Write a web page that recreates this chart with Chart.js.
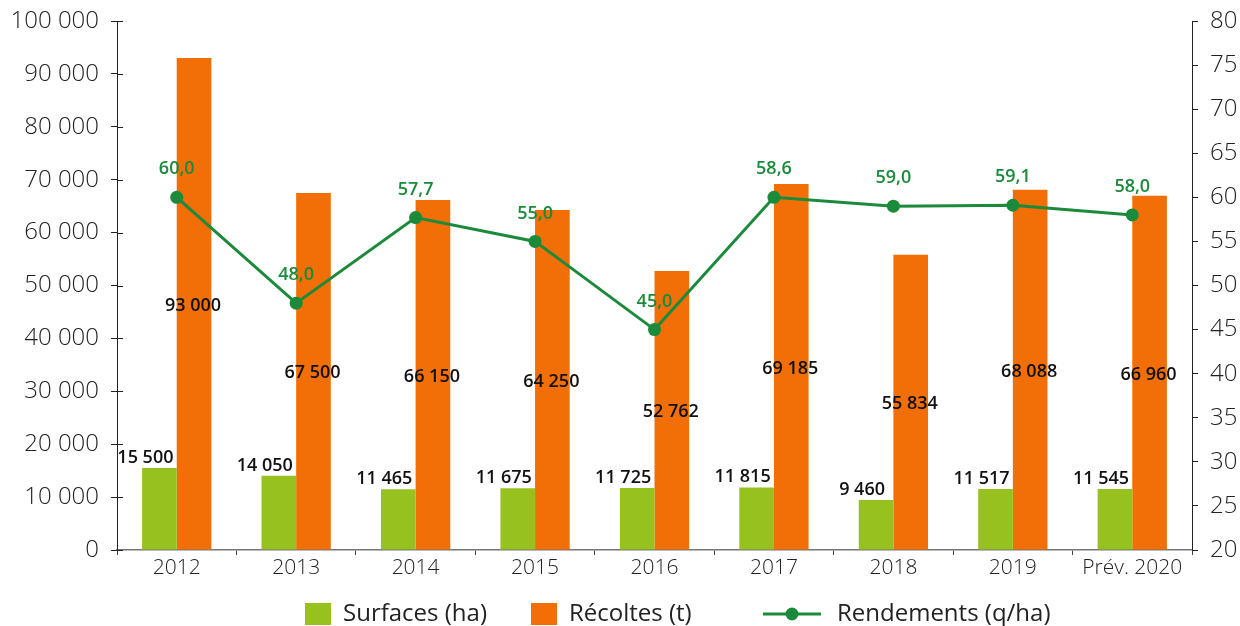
<!DOCTYPE html>
<html><head><meta charset="utf-8">
<script src="https://cdn.jsdelivr.net/npm/chart.js@4.4.1/dist/chart.umd.min.js"></script>
<style>html,body{margin:0;padding:0;background:#fff}canvas{display:block}</style>
</head><body>
<canvas id="c" width="1240" height="626"></canvas>
<script>
const categories = ['2012','2013','2014','2015','2016','2017','2018','2019','Prév. 2020'];
const surfaces = [15500, 14050, 11465, 11675, 11725, 11815, 9460, 11517, 11545];
const recoltes = [93000, 67500, 66150, 64250, 52762, 69185, 55834, 68088, 66960];
const rendements = [60.0, 48.0, 57.7, 55.0, 45.0, 60.0, 59.0, 59.1, 58.0];
const rendementLabels = ['60,0','48,0','57,7','55,0','45,0','58,6','59,0','59,1','58,0'];
const seriesNames = ['Surfaces (ha)', 'Récoltes (t)', 'Rendements (q/ha)'];

const GREEN_BAR = '#97C11F';
const ORANGE = '#F26E06';
const LINE_GREEN = '#1B8A3B';
const FONT = "'Open Sans', sans-serif";
const TXT = '#222';

function fmt(v){ return String(v).replace(/\B(?=(\d{3})+(?!\d))/g, ' '); }

const labelPlugin = {
  id: 'labels',
  afterDatasetsDraw(chart){
    const ctx = chart.ctx;
    ctx.save();
    const m0 = chart.getDatasetMeta(0);
    ctx.font = "600 18px " + FONT;
    ctx.fillStyle = '#111';
    ctx.textAlign = 'center';
    ctx.textBaseline = 'alphabetic';
    m0.data.forEach((el, i) => { ctx.fillText(fmt(surfaces[i]), el.x - 14, el.y - 5); });
    const m1 = chart.getDatasetMeta(1);
    ctx.textBaseline = 'middle';
    m1.data.forEach((el, i) => { ctx.fillText(fmt(recoltes[i]), el.x - 1, (el.y + el.base)/2 + 2); });
    const m2 = chart.getDatasetMeta(2);
    ctx.font = "600 18px " + FONT;
    ctx.fillStyle = LINE_GREEN;
    m2.data.forEach((el, i) => { ctx.fillText(rendementLabels[i], el.x, el.y - 28); });
    ctx.restore();
  }
};

const axisPlugin = {
  id: 'innerTicks',
  afterDraw(chart){
    const ctx = chart.ctx;
    const y = chart.scales.y;
    ctx.save();
    ctx.strokeStyle = '#222';
    ctx.lineWidth = 1;
    y.ticks.forEach(t => {
      const py = Math.round(y.getPixelForValue(t.value)) + 0.5;
      ctx.beginPath(); ctx.moveTo(y.right, py); ctx.lineTo(y.right + 6, py); ctx.stroke();
    });
    ctx.restore();
  }
};

const legendPlugin = {
  id: 'customLegend',
  afterDraw(chart){
    const ctx = chart.ctx;
    ctx.save();
    ctx.font = "400 24px " + FONT;
    ctx.textBaseline = 'middle';
    ctx.textAlign = 'left';
    const cy = 614;
    const starts = [305, 531, 763];
    const colors = [GREEN_BAR, ORANGE];
    for (let i = 0; i < 2; i++) {
      ctx.fillStyle = colors[i];
      ctx.fillRect(starts[i], cy - 11, 26, 22);
      ctx.fillStyle = TXT;
      ctx.fillText(seriesNames[i], starts[i] + 38, cy);
    }
    const x = starts[2];
    ctx.strokeStyle = LINE_GREEN;
    ctx.lineWidth = 3;
    ctx.beginPath(); ctx.moveTo(x, cy); ctx.lineTo(x + 58, cy); ctx.stroke();
    ctx.fillStyle = LINE_GREEN;
    ctx.beginPath(); ctx.arc(x + 29, cy, 6.5, 0, Math.PI*2); ctx.fill();
    ctx.fillStyle = TXT;
    ctx.fillText(seriesNames[2], x + 74, cy);
    ctx.restore();
  }
};

new Chart(document.getElementById('c'), {
  type: 'bar',
  data: {
    labels: categories,
    datasets: [
      { type: 'bar', label: seriesNames[0], data: surfaces, backgroundColor: GREEN_BAR, yAxisID: 'y', order: 1,
        categoryPercentage: 0.58, barPercentage: 1.0 },
      { type: 'bar', label: seriesNames[1], data: recoltes, backgroundColor: ORANGE, yAxisID: 'y', order: 2,
        categoryPercentage: 0.58, barPercentage: 1.0 },
      { type: 'line', label: seriesNames[2], data: rendements, yAxisID: 'y1', order: 0,
        borderColor: LINE_GREEN, backgroundColor: LINE_GREEN, borderWidth: 3, tension: 0,
        pointRadius: 6.5, pointBackgroundColor: LINE_GREEN, pointBorderWidth: 0 }
    ]
  },
  options: {
    responsive: false,
    animation: false,
    events: [],
    layout: { padding: { top: 21, bottom: 46, left: 0, right: 0 } },
    plugins: { legend: { display: false }, tooltip: { enabled: false } },
    scales: {
      x: {
        offset: true,
        grid: { display: true, drawOnChartArea: false, drawTicks: true, tickLength: 5, color: '#444', offset: true },
        border: { color: '#777', width: 1.5 },
        ticks: { font: { family: FONT, size: 21, weight: 300 }, color: TXT, padding: 0, maxRotation: 0, autoSkip: false },
        afterFit(s){ s.height = 30; s.paddingLeft = 0; s.paddingRight = 0; }
      },
      y: {
        position: 'left', min: 0, max: 100000,
        grid: { drawOnChartArea: false, drawTicks: true, tickLength: 6, color: '#222' },
        border: { color: '#222', width: 1 },
        ticks: { stepSize: 10000, padding: 12, color: TXT, font: { family: FONT, size: 24, weight: 300 }, callback: v => fmt(v) },
        afterFit(s){ s.width = 117; s.paddingTop = 0; s.paddingBottom = 0; }
      },
      y1: {
        position: 'right', min: 20, max: 80,
        grid: { drawOnChartArea: false, drawTicks: true, tickLength: 6, color: '#222' },
        border: { color: '#222', width: 1 },
        ticks: { stepSize: 5, padding: 12, color: TXT, font: { family: FONT, size: 24, weight: 300 } },
        afterFit(s){ s.width = 48; s.paddingTop = 0; s.paddingBottom = 0; }
      }
    }
  },
  plugins: [labelPlugin, axisPlugin, legendPlugin]
});
</script>
</body></html>
